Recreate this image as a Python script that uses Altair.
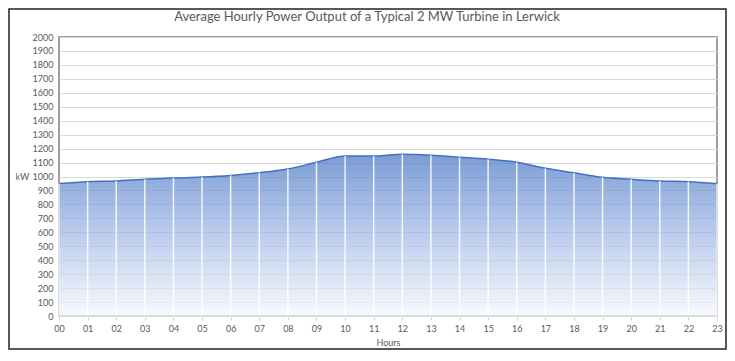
import altair as alt
import pandas as pd

hours = list(range(24))
power_kw = [950, 963, 968, 980, 989, 996, 1008, 1027, 1054, 1102, 1147, 1147,
            1159, 1152, 1138, 1124, 1102, 1059, 1027, 994, 980, 968, 963, 948]
y_ticks = list(range(0, 2001, 100))
title_text = "Average Hourly Power Output of a Typical 2 MW Turbine in Lerwick"

df = pd.DataFrame({"hour": hours, "kw": power_kw})
one = pd.DataFrame({"t": [title_text]})

FONT = "Lato"
GRAY = "#595959"

x = alt.X("hour:Q", scale=alt.Scale(domain=[0, 23], nice=False),
          axis=alt.Axis(values=hours, labelExpr="datum.value < 10 ? '0' + datum.value : '' + datum.value",
                        title="Hours", grid=False, domainColor="#d9d9d9", tickColor="#d9d9d9",
                        tickSize=4, labelFontSize=9, labelColor=GRAY, titleFontSize=9,
                        titleColor=GRAY, titleFontWeight="normal", labelPadding=4, titlePadding=5,
                        labelFont=FONT, titleFont=FONT, labelOverlap=False, labelFlush=False))
y = alt.Y("kw:Q", scale=alt.Scale(domain=[0, 2000], nice=False),
          axis=alt.Axis(values=y_ticks, format="d", title="kW", titleAngle=0, titleX=-44, titleY=139,
                        titleAlign="left", titleBaseline="middle",
                        grid=True, gridColor="#d9d9d9", domain=False, ticks=False,
                        labelFontSize=9, labelColor=GRAY, titleFontSize=9, titleColor=GRAY,
                        titleFontWeight="normal", labelPadding=6, labelFont=FONT, titleFont=FONT,
                        labelOverlap=False, labelFlush=False))

base = alt.Chart(df)

area = base.mark_area(
    interpolate="monotone",
    line={"color": "#3f72bf", "strokeWidth": 1.5},
    color=alt.Gradient(gradient="linear",
                       stops=[alt.GradientStop(color="#4472c4", offset=0),
                              alt.GradientStop(color="#8eabdf", offset=0.4),
                              alt.GradientStop(color="#f4f7fc", offset=1)],
                       x1=1, x2=1, y1=0, y2=1),
).encode(x=x, y=y)

rules = base.mark_rule(color="white", strokeWidth=1.5, opacity=0.85).encode(
    x=x, y=y, y2=alt.datum(0))

frame = alt.Chart(one).mark_rect(filled=False, stroke="#222222", strokeWidth=1.5).encode(
    x=alt.value(-50), x2=alt.value(667), y=alt.value(-28), y2=alt.value(312))

title = alt.Chart(one).mark_text(font=FONT, fontSize=13, color=GRAY, align="center", baseline="middle").encode(
    x=alt.value(308), y=alt.value(-20), text="t:N")

chart = alt.layer(area, rules, frame, title).properties(
    width=658, height=279,
    autosize=alt.AutoSizeParams(type="none"),
    padding={"left": 51, "top": 29, "right": 10, "bottom": 36},
).configure_view(stroke="#7f7f7f", strokeWidth=1.5)

chart.save("out.html", embed_options={"renderer": "svg", "actions": False})
